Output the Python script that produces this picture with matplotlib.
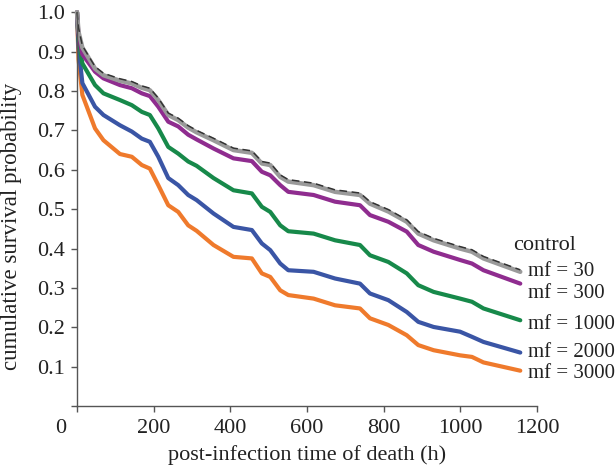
import matplotlib.pyplot as plt

# post-infection time (h) at which the survival curves change
hours = [0, 4, 14, 47, 69, 112, 143, 169, 190, 212, 238, 264, 290, 312, 356, 408,
         456, 482, 504, 530, 551, 617, 673, 738, 764, 812, 860, 890, 930, 999,
         1030, 1060, 1156]

control = [1.0, 0.96, 0.915, 0.862, 0.845, 0.831, 0.824, 0.813, 0.807, 0.782, 0.744,
           0.731, 0.712, 0.700, 0.680, 0.655, 0.648, 0.621, 0.617, 0.587, 0.575, 0.566,
           0.549, 0.541, 0.519, 0.499, 0.473, 0.443, 0.426, 0.405, 0.397, 0.380, 0.346]
mf30 = [1.0, 0.95, 0.910, 0.857, 0.840, 0.826, 0.819, 0.808, 0.802, 0.777, 0.739,
        0.726, 0.707, 0.695, 0.675, 0.650, 0.643, 0.616, 0.612, 0.582, 0.570, 0.561,
        0.544, 0.536, 0.514, 0.494, 0.468, 0.438, 0.421, 0.400, 0.392, 0.375, 0.341]
mf300 = [1.0, 0.94, 0.893, 0.849, 0.832, 0.815, 0.807, 0.794, 0.787, 0.760, 0.722,
         0.710, 0.689, 0.677, 0.654, 0.629, 0.622, 0.595, 0.586, 0.561, 0.544, 0.536,
         0.519, 0.510, 0.485, 0.468, 0.443, 0.409, 0.392, 0.371, 0.362, 0.345, 0.311]
mf1000 = [1.0, 0.93, 0.870, 0.815, 0.794, 0.777, 0.764, 0.747, 0.739, 0.705, 0.658,
          0.641, 0.621, 0.610, 0.579, 0.548, 0.540, 0.506, 0.493, 0.459, 0.444, 0.438,
          0.421, 0.409, 0.383, 0.366, 0.337, 0.307, 0.290, 0.273, 0.265, 0.248, 0.218]
mf2000 = [1.0, 0.91, 0.820, 0.760, 0.739, 0.713, 0.697, 0.679, 0.671, 0.633, 0.579,
          0.561, 0.536, 0.523, 0.489, 0.455, 0.447, 0.413, 0.396, 0.362, 0.345, 0.341,
          0.324, 0.311, 0.286, 0.269, 0.239, 0.214, 0.201, 0.189, 0.176, 0.163, 0.136]
mf3000 = [1.0, 0.88, 0.790, 0.705, 0.675, 0.640, 0.633, 0.612, 0.603, 0.561, 0.510,
          0.493, 0.459, 0.445, 0.409, 0.379, 0.375, 0.337, 0.328, 0.294, 0.282, 0.273,
          0.256, 0.248, 0.223, 0.206, 0.180, 0.155, 0.142, 0.129, 0.125, 0.111, 0.090]

labels = ["control", "mf = 30", "mf = 300", "mf = 1000", "mf = 2000", "mf = 3000"]
x_ticks = [0, 200, 400, 600, 800, 1000, 1200]
y_ticks = [0.1, 0.2, 0.3, 0.4, 0.5, 0.6, 0.7, 0.8, 0.9, 1.0]

plt.rcParams['font.family'] = ['Liberation Serif', 'DejaVu Serif']

fig = plt.figure(figsize=(6.16, 4.69), dpi=100)
ax = fig.add_axes([0.125, 0.134, 0.747, 0.84])

# coloured curves first, control dashed on top
ax.plot(hours, mf3000, color="#EF7A2C", lw=3.0, clip_on=False, solid_capstyle="round")
ax.plot(hours, mf2000, color="#3A55A5", lw=3.0, clip_on=False, solid_capstyle="round")
ax.plot(hours, mf1000, color="#17894A", lw=3.0, clip_on=False, solid_capstyle="round")
ax.plot(hours, mf300, color="#8F2C8F", lw=3.0, clip_on=False, solid_capstyle="round")
ax.plot(hours, mf30, color="#9A9A9A", lw=3.2, clip_on=False, solid_capstyle="round")
ax.plot(hours, control, color="#333333", lw=1.1, ls=(0, (5, 3)), clip_on=False)

# series names at the right-hand end
label_x = [1137, 1176, 1176, 1176, 1176, 1176]
label_y = [0.409, 0.343, 0.287, 0.208, 0.137, 0.084]
label_size = [16, 15, 15, 15, 15, 15]
for name, lx, ly, fs in zip(labels, label_x, label_y, label_size):
    ax.text(lx, ly, name, fontsize=fs, va="center", ha="left", color="#222222",
            clip_on=False)

ax.set_xlim(0, 1200)
ax.set_ylim(0, 1.0)
ax.set_xticks(x_ticks)
ax.set_xticklabels([""] + [str(v) for v in x_ticks[1:]])
ax.set_yticks([0] + y_ticks)
ax.set_yticklabels([""] + [f"{v:.1f}" for v in y_ticks])
ax.annotate("0", xy=(0, 0), xytext=(-12, -9), textcoords="offset points",
            ha="center", va="top", fontsize=16, color="#222222")

for side in ["top", "right"]:
    ax.spines[side].set_visible(False)
for side in ["left", "bottom"]:
    ax.spines[side].set_color("#555555")
    ax.spines[side].set_linewidth(1.0)
ax.tick_params(direction="out", length=4, width=1.0, color="#555555",
               labelsize=16, labelcolor="#222222", pad=5)

ax.set_xlabel("post-infection time of death (h)", fontsize=16, color="#222222")
ax.set_ylabel("cumulative survival probability", fontsize=16.5, color="#222222")
ax.xaxis.set_label_coords(0.501, -0.125)
ax.yaxis.set_label_coords(-0.143, 0.457)
ax.xaxis.label.set_va("center")
ax.yaxis.label.set_va("center")

fig.savefig("out.png", dpi=100)
plt.close(fig)
